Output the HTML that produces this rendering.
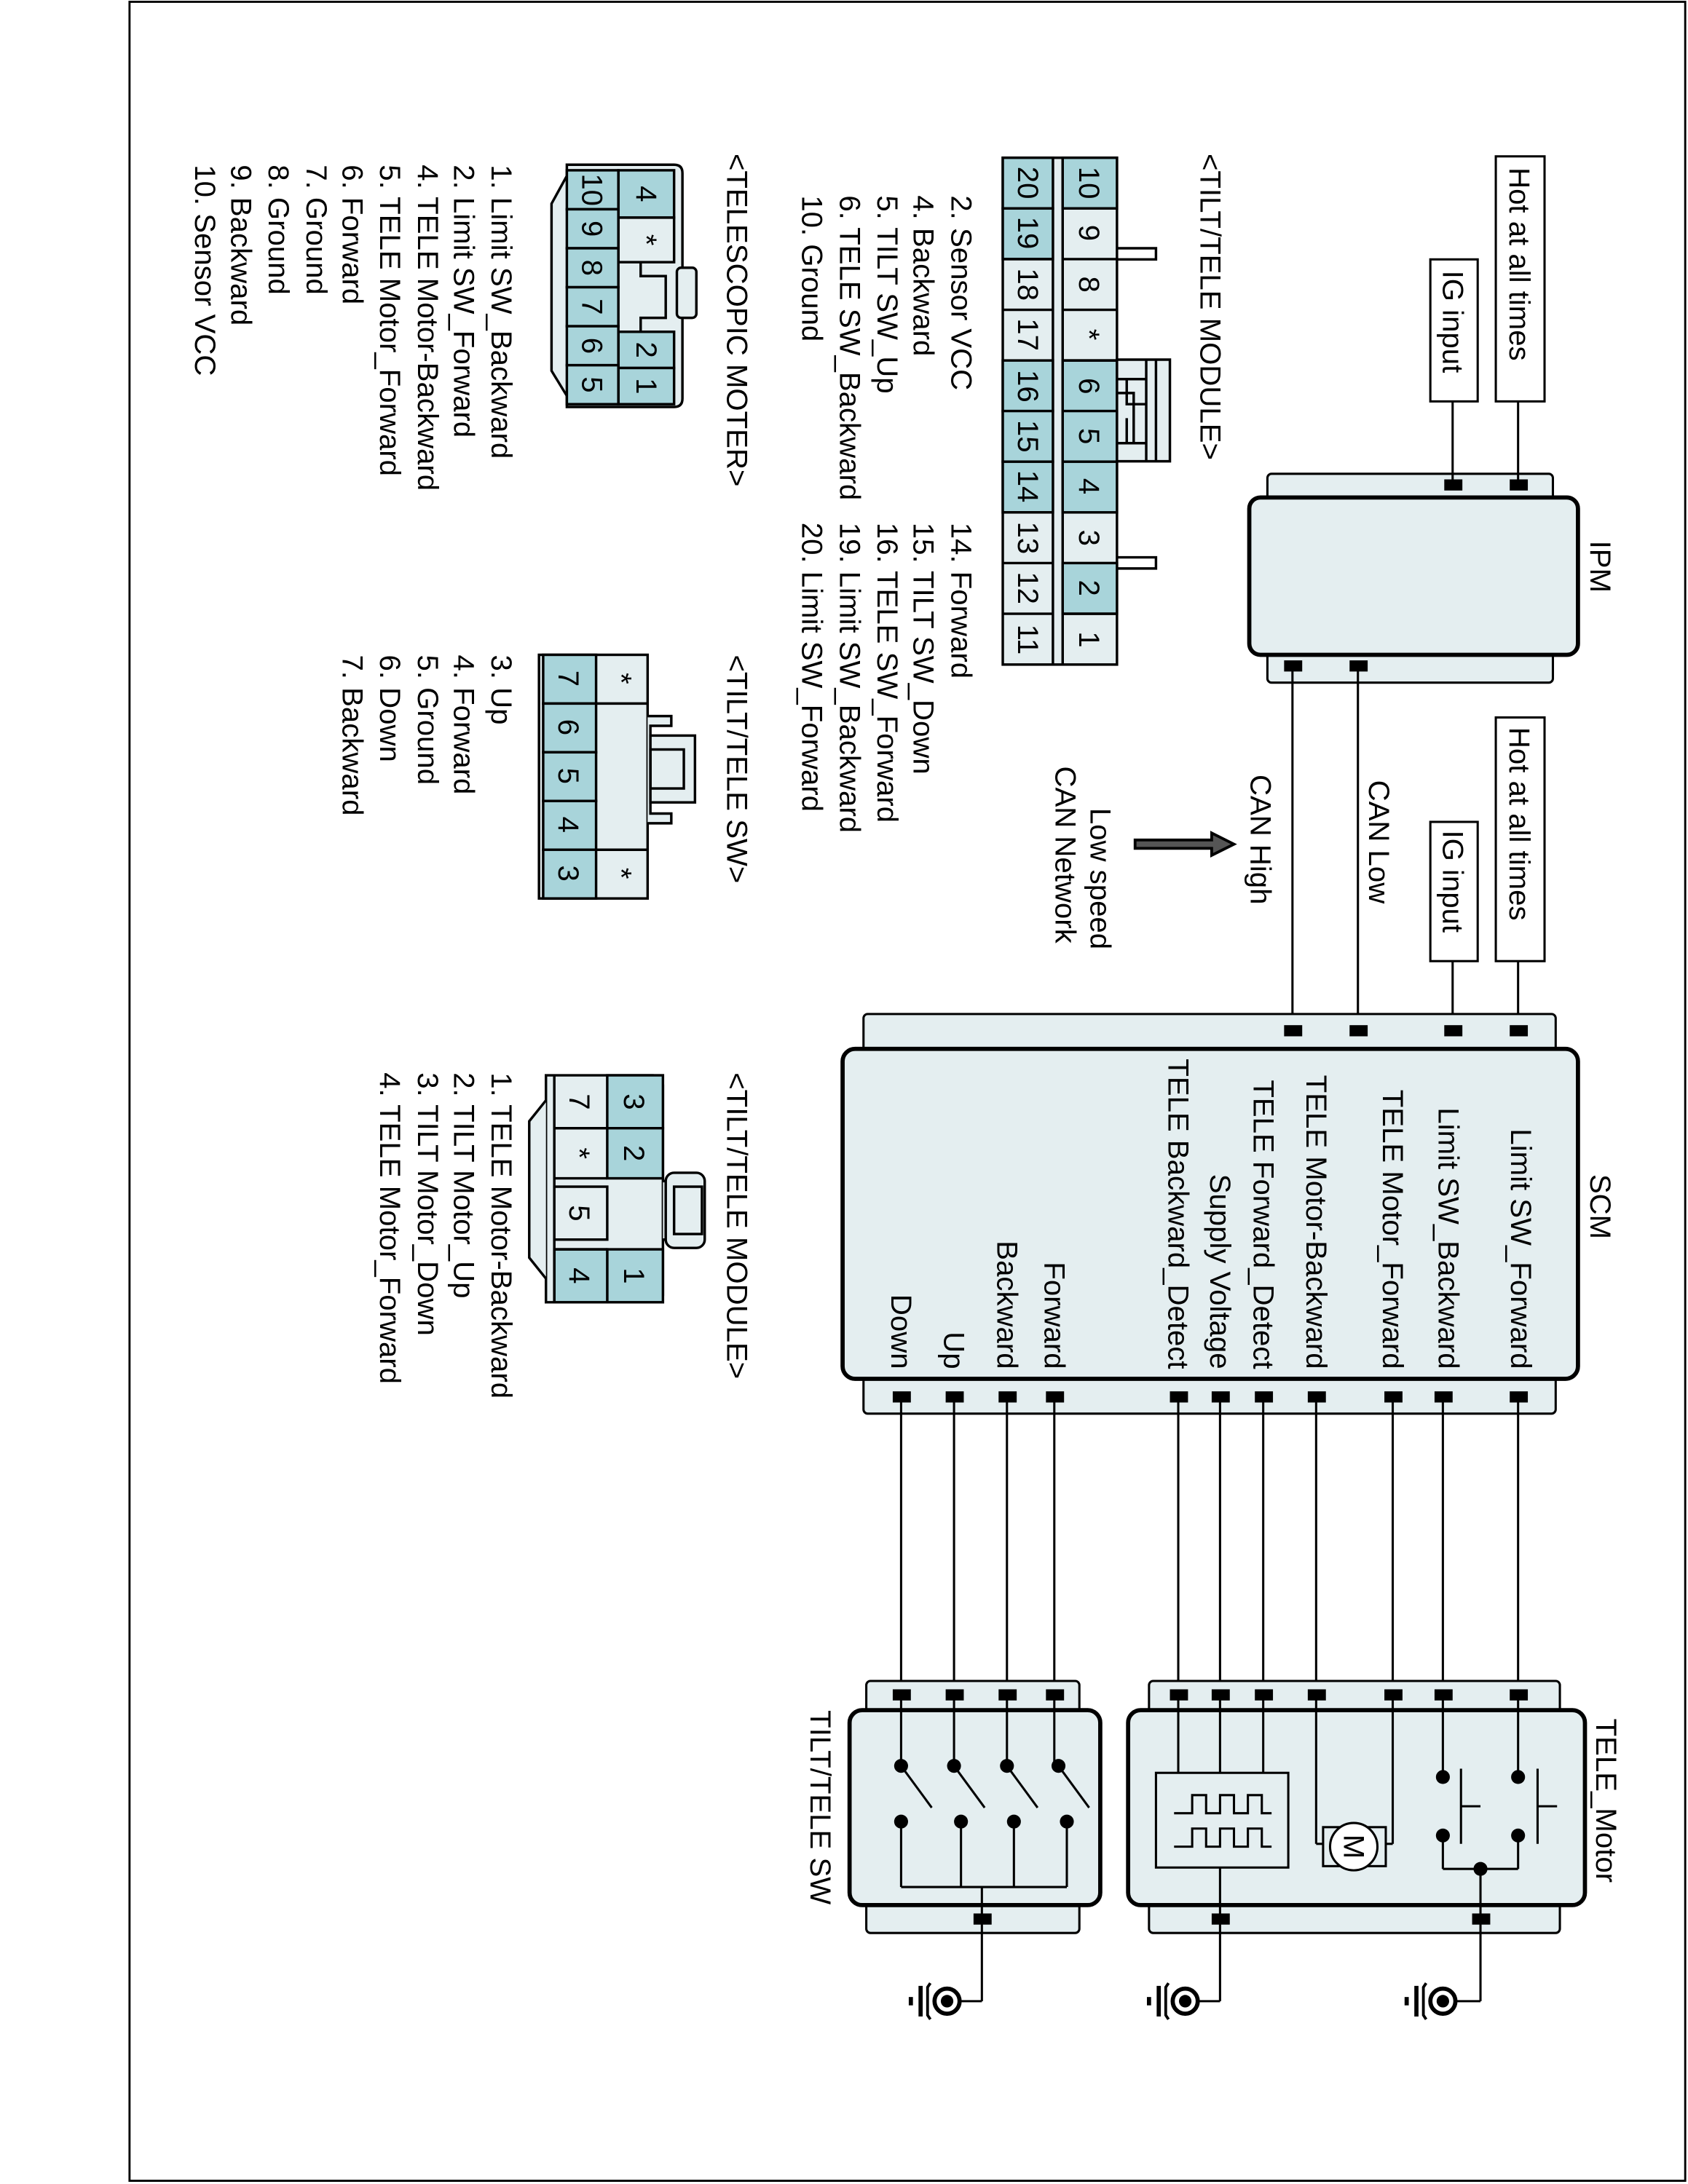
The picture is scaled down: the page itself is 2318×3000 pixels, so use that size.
<!DOCTYPE html>
<html><head><meta charset="utf-8"><style>
html,body{margin:0;padding:0;background:#fff}
svg{display:block}
text{font-family:"Liberation Sans",sans-serif;font-size:21px;fill:#000}
.c{font-size:21px}
</style></head><body>
<svg width="2318" height="3000" viewBox="0 0 1212 1568" xmlns="http://www.w3.org/2000/svg">
<rect x="93" y="1" width="1117" height="1565" fill="none" stroke="#000" stroke-width="1.5"/>

<g stroke="#000" stroke-width="1.6" fill="none">
<rect x="910" y="340" width="205" height="150" rx="3" fill="#e4eef0"/>
<rect x="897" y="357" width="236" height="113" rx="8" fill="#e4eef0" stroke-width="3"/>
<rect x="1074" y="112" width="35" height="176" fill="#fff"/>
<rect x="1027" y="186" width="34" height="102" fill="#fff"/>
<rect x="1074" y="515" width="35" height="175" fill="#fff"/>
<rect x="1027" y="590" width="34" height="100" fill="#fff"/>
<line x1="1090" y1="288" x2="1090" y2="348"/>
<line x1="1043" y1="288" x2="1043" y2="348"/>
<line x1="1090" y1="690" x2="1090" y2="740"/>
<line x1="1043" y1="690" x2="1043" y2="740"/>
<line x1="975" y1="478" x2="975" y2="740"/>
<line x1="928" y1="478" x2="928" y2="740"/>
<rect x="620" y="728" width="497" height="287" rx="3" fill="#e4eef0"/>
<rect x="605" y="753" width="528" height="237" rx="9" fill="#e4eef0" stroke-width="3"/>
<g>
<line x1="1090" y1="1003" x2="1090" y2="1217"/>
<line x1="1036" y1="1003" x2="1036" y2="1217"/>
<line x1="1000" y1="1003" x2="1000" y2="1217"/>
<line x1="945" y1="1003" x2="945" y2="1217"/>
<line x1="907" y1="1003" x2="907" y2="1217"/>
<line x1="876" y1="1003" x2="876" y2="1217"/>
<line x1="846" y1="1003" x2="846" y2="1217"/>
<line x1="757" y1="1003" x2="757" y2="1217"/>
<line x1="723" y1="1003" x2="723" y2="1217"/>
<line x1="685" y1="1003" x2="685" y2="1217"/>
<line x1="647" y1="1003" x2="647" y2="1217"/>
</g>
<rect x="825" y="1207" width="295" height="181" rx="3" fill="#e4eef0"/>
<rect x="810" y="1228" width="328" height="140" rx="9" fill="#e4eef0" stroke-width="3"/>
<rect x="622" y="1207" width="153" height="181" rx="3" fill="#e4eef0"/>
<rect x="610" y="1228" width="180" height="140" rx="9" fill="#e4eef0" stroke-width="3"/>

<line x1="1090" y1="1217" x2="1090" y2="1276"/>
<line x1="1036" y1="1217" x2="1036" y2="1276"/>
<line x1="1090" y1="1318" x2="1090" y2="1342"/>
<line x1="1036" y1="1318" x2="1036" y2="1342"/>
<line x1="1036" y1="1342" x2="1090" y2="1342"/>
<line x1="1063" y1="1342" x2="1063" y2="1437"/>
<line x1="1063" y1="1437" x2="1046" y2="1437"/>
<line x1="1104" y1="1270" x2="1104" y2="1324"/>
<line x1="1104" y1="1297" x2="1118" y2="1297"/>
<line x1="1049" y1="1270" x2="1049" y2="1324"/>
<line x1="1049" y1="1297" x2="1063" y2="1297"/>
<line x1="1000" y1="1217" x2="1000" y2="1324"/>
<line x1="945" y1="1217" x2="945" y2="1324"/>
<line x1="945" y1="1324" x2="950" y2="1324"/>
<line x1="1000" y1="1324" x2="995" y2="1324"/>
<rect x="950" y="1312" width="45" height="28" fill="#e4eef0"/>
<circle cx="972" cy="1326" r="17" fill="#fff"/>
<line x1="907" y1="1217" x2="907" y2="1273"/>
<line x1="876" y1="1217" x2="876" y2="1273"/>
<line x1="846" y1="1217" x2="846" y2="1273"/>
<rect x="830" y="1273" width="95" height="68" fill="#e4eef0"/>
<line x1="876" y1="1341" x2="876" y2="1437"/>
<line x1="876" y1="1437" x2="861" y2="1437"/>
<path d="M843 1302 H856 V1289 H866 V1302 H876 V1289 H886 V1302 H896 V1289 H906 V1302 H913"/>
<path d="M843 1326 H856 V1313 H866 V1326 H876 V1313 H886 V1326 H896 V1313 H906 V1326 H913"/>
<line x1="757" y1="1217" x2="757" y2="1268"/>
<line x1="723" y1="1217" x2="723" y2="1268"/>
<line x1="685" y1="1217" x2="685" y2="1268"/>
<line x1="647" y1="1217" x2="647" y2="1268"/>
<line x1="760" y1="1268" x2="782" y2="1298"/>
<line x1="723" y1="1268" x2="745" y2="1298"/>
<line x1="685" y1="1268" x2="707" y2="1298"/>
<line x1="647" y1="1268" x2="669" y2="1298"/>
<line x1="766" y1="1308" x2="766" y2="1355"/>
<line x1="728" y1="1308" x2="728" y2="1355"/>
<line x1="690" y1="1308" x2="690" y2="1355"/>
<line x1="647" y1="1308" x2="647" y2="1355"/>
<line x1="647" y1="1355" x2="766" y2="1355"/>
<line x1="705" y1="1355" x2="705" y2="1437"/>
<line x1="705" y1="1437" x2="690" y2="1437"/>
</g>

<g fill="#000">
<circle cx="1090" cy="1276" r="5"/><circle cx="1036" cy="1276" r="5"/>
<circle cx="1090" cy="1318" r="5"/><circle cx="1036" cy="1318" r="5"/>
<circle cx="1063" cy="1342" r="5"/>
<circle cx="760" cy="1268" r="5"/><circle cx="723" cy="1268" r="5"/><circle cx="685" cy="1268" r="5"/><circle cx="647" cy="1268" r="5"/>
<circle cx="766" cy="1308" r="5"/><circle cx="728" cy="1308" r="5"/><circle cx="690" cy="1308" r="5"/><circle cx="647" cy="1308" r="5"/>
<g>
<rect x="1084" y="344" width="13" height="8"/><rect x="1037" y="344" width="13" height="8"/>
<rect x="969" y="474" width="13" height="8"/><rect x="922" y="474" width="13" height="8"/>
<rect x="1084" y="736" width="13" height="8"/><rect x="1037" y="736" width="13" height="8"/>
<rect x="969" y="736" width="13" height="8"/><rect x="922" y="736" width="13" height="8"/>
<rect x="1084" y="999" width="13" height="8"/><rect x="1030" y="999" width="13" height="8"/><rect x="994" y="999" width="13" height="8"/><rect x="939" y="999" width="13" height="8"/><rect x="901" y="999" width="13" height="8"/><rect x="870" y="999" width="13" height="8"/><rect x="840" y="999" width="13" height="8"/><rect x="751" y="999" width="13" height="8"/><rect x="717" y="999" width="13" height="8"/><rect x="679" y="999" width="13" height="8"/><rect x="641" y="999" width="13" height="8"/>
<rect x="1084" y="1213" width="13" height="8"/><rect x="1030" y="1213" width="13" height="8"/><rect x="994" y="1213" width="13" height="8"/><rect x="939" y="1213" width="13" height="8"/><rect x="901" y="1213" width="13" height="8"/><rect x="870" y="1213" width="13" height="8"/><rect x="840" y="1213" width="13" height="8"/><rect x="751" y="1213" width="13" height="8"/><rect x="717" y="1213" width="13" height="8"/><rect x="679" y="1213" width="13" height="8"/><rect x="641" y="1213" width="13" height="8"/>
<rect x="1057" y="1374" width="13" height="8"/><rect x="870" y="1374" width="13" height="8"/><rect x="699" y="1374" width="13" height="8"/>
</g>
</g>

<g stroke="#000" fill="none">
<g transform="translate(1036,1437)"><circle r="9" stroke-width="3"/><circle r="4.5" fill="#000" stroke="none"/><path d="M-12 -13 L-14 -10 L-14 10 L-12 13" stroke-width="2"/><line x1="-19" y1="-11" x2="-19" y2="11" stroke-width="3"/><line x1="-26" y1="-3" x2="-26" y2="3" stroke-width="3"/></g>
<g transform="translate(851,1437)"><circle r="9" stroke-width="3"/><circle r="4.5" fill="#000" stroke="none"/><path d="M-12 -13 L-14 -10 L-14 10 L-12 13" stroke-width="2"/><line x1="-19" y1="-11" x2="-19" y2="11" stroke-width="3"/><line x1="-26" y1="-3" x2="-26" y2="3" stroke-width="3"/></g>
<g transform="translate(680,1437)"><circle r="9" stroke-width="3"/><circle r="4.5" fill="#000" stroke="none"/><path d="M-12 -13 L-14 -10 L-14 10 L-12 13" stroke-width="2"/><line x1="-19" y1="-11" x2="-19" y2="11" stroke-width="3"/><line x1="-26" y1="-3" x2="-26" y2="3" stroke-width="3"/></g>
</g>

<path d="M815 603 L870 603 L870 598 L886 606 L870 614 L870 609 L815 609 Z" fill="#555" stroke="#000" stroke-width="2"/>

<g stroke="#000" stroke-width="1.8">
<rect x="720" y="113" width="82" height="364" fill="#e4eef0"/>
<line x1="756" y1="113" x2="756" y2="477"/><line x1="763" y1="113" x2="763" y2="477"/>
<g fill="#a8d4da">
<rect x="763" y="113" width="39" height="36.4"/>
<rect x="763" y="258.6" width="39" height="36.4"/>
<rect x="763" y="294.9" width="39" height="36.4"/>
<rect x="763" y="331.3" width="39" height="36.4"/>
<rect x="763" y="404.1" width="39" height="36.4"/>
<rect x="720" y="113" width="36" height="36.4"/>
<rect x="720" y="149.4" width="36" height="36.4"/>
<rect x="720" y="258.6" width="36" height="36.4"/>
<rect x="720" y="294.9" width="36" height="36.4"/>
<rect x="720" y="331.3" width="36" height="36.4"/>
</g>
<g fill="none">
<path d="M763 149.4H802M763 185.8H802M763 222.2H802M763 258.6H802M763 440.5H802M720 185.8H756M720 222.2H756M720 367.7H756M720 404.1H756M720 440.5H756"/>
<path d="M802 178 H830 V186 H802"/>
<path d="M802 400 H830 V408 H802"/>
</g>
<path d="M802 258 H840 V331 H802 Z" fill="#e4eef0"/>
<path d="M823 258 V331 M830 258 V331 M802 272 H823 M802 282 H814 V318 H802 M809 272 V290 H823 M809 300 V318 H823" fill="none"/>
</g>

<g stroke="#000" stroke-width="1.8">
<path d="M407 118 H484 Q490 118 490 124 V286 Q490 292 484 292 H407 Z" fill="#e4eef0"/>
<path d="M407 126 L396 146 V266 L407 284" fill="#e4eef0"/>
<rect x="444" y="122" width="40" height="34" fill="#a8d4da"/>
<rect x="444" y="156" width="40" height="32" fill="#e4eef0"/>
<rect x="444" y="238" width="40" height="26" fill="#a8d4da"/>
<rect x="444" y="264" width="40" height="26" fill="#a8d4da"/>
<rect x="407" y="122" width="37" height="28" fill="#a8d4da"/>
<rect x="407" y="150" width="37" height="28" fill="#a8d4da"/>
<rect x="407" y="178" width="37" height="28" fill="#a8d4da"/>
<rect x="407" y="206" width="37" height="28" fill="#a8d4da"/>
<rect x="407" y="234" width="37" height="28" fill="#a8d4da"/>
<rect x="407" y="262" width="37" height="28" fill="#a8d4da"/>
<path d="M460 188 V198 H478 V228 H460 V238" fill="none"/>
<rect x="486" y="192" width="14" height="36" rx="3" fill="#e4eef0"/>
</g>

<g stroke="#000" stroke-width="1.8">
<rect x="387" y="470" width="78" height="175" fill="#e4eef0"/>
<rect x="390" y="470" width="38" height="35" fill="#a8d4da"/>
<rect x="390" y="505" width="38" height="35" fill="#a8d4da"/>
<rect x="390" y="540" width="38" height="35" fill="#a8d4da"/>
<rect x="390" y="575" width="38" height="35" fill="#a8d4da"/>
<rect x="390" y="610" width="38" height="35" fill="#a8d4da"/>
<path d="M428 505 H465 M428 610 H465" fill="none"/>
<path d="M465 514 H482 V521 H467 V584 H482 V591 H465" fill="#e4eef0"/>
<rect x="467" y="528" width="32" height="48" fill="#e4eef0"/>
<rect x="467" y="538" width="24" height="28" fill="none"/>
</g>

<g stroke="#000" stroke-width="1.8">
<path d="M392 772 H469 L476 779 V930 L469 935 H392 Z" fill="#e4eef0"/>
<path d="M392 790 L380 805 V903 L392 918" fill="#e4eef0"/>
<rect x="436" y="772" width="40" height="38" fill="#a8d4da"/>
<rect x="436" y="810" width="40" height="36" fill="#a8d4da"/>
<rect x="436" y="897" width="40" height="38" fill="#a8d4da"/>
<rect x="398" y="897" width="38" height="38" fill="#a8d4da"/>
<path d="M398 772 V935 M398 810 H436 M398 846 H436 M398 897 H436" fill="none"/>
<rect x="398" y="852" width="38" height="38" fill="#e4eef0"/>
<path d="M476 848 H480 V890 H476" fill="#e4eef0"/>
<rect x="478" y="842" width="28" height="54" rx="6" fill="#e4eef0"/>
<rect x="484" y="852" width="20" height="34" fill="none"/>
</g>

<g>
<text transform="translate(1084,120) rotate(90)">Hot at all times</text>
<text transform="translate(1036,194) rotate(90)">IG input</text>
<text transform="translate(1084,522) rotate(90)">Hot at all times</text>
<text transform="translate(1036,596) rotate(90)">IG input</text>
<text transform="translate(1142,388) rotate(90)">IPM</text>
<text transform="translate(1142,843) rotate(90)">SCM</text>
<text transform="translate(1146,1234) rotate(90)">TELE_Motor</text>
<text transform="translate(582,1228) rotate(90)">TILT/TELE SW</text>
<text transform="translate(983,560) rotate(90)">CAN Low</text>
<text transform="translate(898,556) rotate(90)">CAN High</text>
<text transform="translate(783,580) rotate(90)">Low speed</text>
<text transform="translate(758,550) rotate(90)">CAN Network</text>
</g>
<g text-anchor="end">
<text transform="translate(1085,983) rotate(90)">Limit SW_Forward</text>
<text transform="translate(1033,983) rotate(90)">Limit  SW_Backward</text>
<text transform="translate(993,983) rotate(90)">TELE Motor_Forward</text>
<text transform="translate(938,983) rotate(90)">TELE Motor-Backward</text>
<text transform="translate(900,983) rotate(90)">TELE Forward_Detect</text>
<text transform="translate(869,983) rotate(90)">Supply Voltage</text>
<text transform="translate(839,983) rotate(90)">TELE Backward_Detect</text>
<text transform="translate(750,983) rotate(90)">Forward</text>
<text transform="translate(716,983) rotate(90)">Backward</text>
<text transform="translate(678,983) rotate(90)">Up</text>
<text transform="translate(640,983) rotate(90)">Down</text>
</g>
<g>
<text transform="translate(862,110) rotate(90)">&lt;TILT/TELE MODULE&gt;</text>
<text transform="translate(683,140) rotate(90)">2. Sensor VCC</text>
<text transform="translate(656,140) rotate(90)">4. Backward</text>
<text transform="translate(630,140) rotate(90)">5. TILT SW_Up</text>
<text transform="translate(603,140) rotate(90)">6. TELE SW_Backward</text>
<text transform="translate(576,140) rotate(90)">10. Ground</text>
<text transform="translate(683,375) rotate(90)">14. Forward</text>
<text transform="translate(656,375) rotate(90)">15. TILT SW_Down</text>
<text transform="translate(630,375) rotate(90)">16. TELE SW_Forward</text>
<text transform="translate(603,375) rotate(90)">19. Limit SW_Backward</text>
<text transform="translate(576,375) rotate(90)">20. Limit SW_Forward</text>

<text transform="translate(522,110) rotate(90)">&lt;TELESCOPIC MOTER&gt;</text>
<text transform="translate(353,118) rotate(90)">1. Limit  SW_Backward</text>
<text transform="translate(326,118) rotate(90)">2. Limit SW_Forward</text>
<text transform="translate(300,118) rotate(90)">4. TELE Motor-Backward</text>
<text transform="translate(273,118) rotate(90)">5. TELE Motor_Forward</text>
<text transform="translate(246,118) rotate(90)">6. Forward</text>
<text transform="translate(220,118) rotate(90)">7. Ground</text>
<text transform="translate(193,118) rotate(90)">8. Ground</text>
<text transform="translate(166,118) rotate(90)">9. Backward</text>
<text transform="translate(140,118) rotate(90)">10. Sensor VCC</text>

<text transform="translate(522,470) rotate(90)">&lt;TILT/TELE SW&gt;</text>
<text transform="translate(353,470) rotate(90)">3. Up</text>
<text transform="translate(326,470) rotate(90)">4. Forward</text>
<text transform="translate(300,470) rotate(90)">5. Ground</text>
<text transform="translate(273,470) rotate(90)">6. Down</text>
<text transform="translate(246,470) rotate(90)">7. Backward</text>

<text transform="translate(522,770) rotate(90)">&lt;TILT/TELE MODULE&gt;</text>
<text transform="translate(353,770) rotate(90)">1. TELE Motor-Backward</text>
<text transform="translate(326,770) rotate(90)">2. TILT Motor_Up</text>
<text transform="translate(300,770) rotate(90)">3. TILT Motor_Down</text>
<text transform="translate(273,770) rotate(90)">4. TELE Motor_Forward</text>
</g>
<g class="c" text-anchor="middle">
<text class="c" transform="translate(775,131) rotate(90)">10</text>
<text class="c" transform="translate(775,167) rotate(90)">9</text>
<text class="c" transform="translate(775,204) rotate(90)">8</text>
<text class="c" transform="translate(775,240) rotate(90)">*</text>
<text class="c" transform="translate(775,277) rotate(90)">6</text>
<text class="c" transform="translate(775,313) rotate(90)">5</text>
<text class="c" transform="translate(775,349) rotate(90)">4</text>
<text class="c" transform="translate(775,386) rotate(90)">3</text>
<text class="c" transform="translate(775,422) rotate(90)">2</text>
<text class="c" transform="translate(775,459) rotate(90)">1</text>
<text class="c" transform="translate(731,131) rotate(90)">20</text>
<text class="c" transform="translate(731,167) rotate(90)">19</text>
<text class="c" transform="translate(731,204) rotate(90)">18</text>
<text class="c" transform="translate(731,240) rotate(90)">17</text>
<text class="c" transform="translate(731,277) rotate(90)">16</text>
<text class="c" transform="translate(731,313) rotate(90)">15</text>
<text class="c" transform="translate(731,349) rotate(90)">14</text>
<text class="c" transform="translate(731,386) rotate(90)">13</text>
<text class="c" transform="translate(731,422) rotate(90)">12</text>
<text class="c" transform="translate(731,459) rotate(90)">11</text>

<text class="c" transform="translate(457,139) rotate(90)">4</text>
<text class="c" transform="translate(457,172) rotate(90)">*</text>
<text class="c" transform="translate(457,251) rotate(90)">2</text>
<text class="c" transform="translate(457,277) rotate(90)">1</text>
<text class="c" transform="translate(418,136) rotate(90)">10</text>
<text class="c" transform="translate(418,164) rotate(90)">9</text>
<text class="c" transform="translate(418,192) rotate(90)">8</text>
<text class="c" transform="translate(418,220) rotate(90)">7</text>
<text class="c" transform="translate(418,248) rotate(90)">6</text>
<text class="c" transform="translate(418,276) rotate(90)">5</text>

<text class="c" transform="translate(439,487) rotate(90)">*</text>
<text class="c" transform="translate(439,627) rotate(90)">*</text>
<text class="c" transform="translate(401,487) rotate(90)">7</text>
<text class="c" transform="translate(401,522) rotate(90)">6</text>
<text class="c" transform="translate(401,557) rotate(90)">5</text>
<text class="c" transform="translate(401,592) rotate(90)">4</text>
<text class="c" transform="translate(401,627) rotate(90)">3</text>

<text class="c" transform="translate(448,791) rotate(90)">3</text>
<text class="c" transform="translate(448,828) rotate(90)">2</text>
<text class="c" transform="translate(448,916) rotate(90)">1</text>
<text class="c" transform="translate(409,791) rotate(90)">7</text>
<text class="c" transform="translate(409,828) rotate(90)">*</text>
<text class="c" transform="translate(409,871) rotate(90)">5</text>
<text class="c" transform="translate(409,916) rotate(90)">4</text>

<text class="c" transform="translate(965,1326) rotate(90)">M</text>
</g>
</svg>
</body></html>
